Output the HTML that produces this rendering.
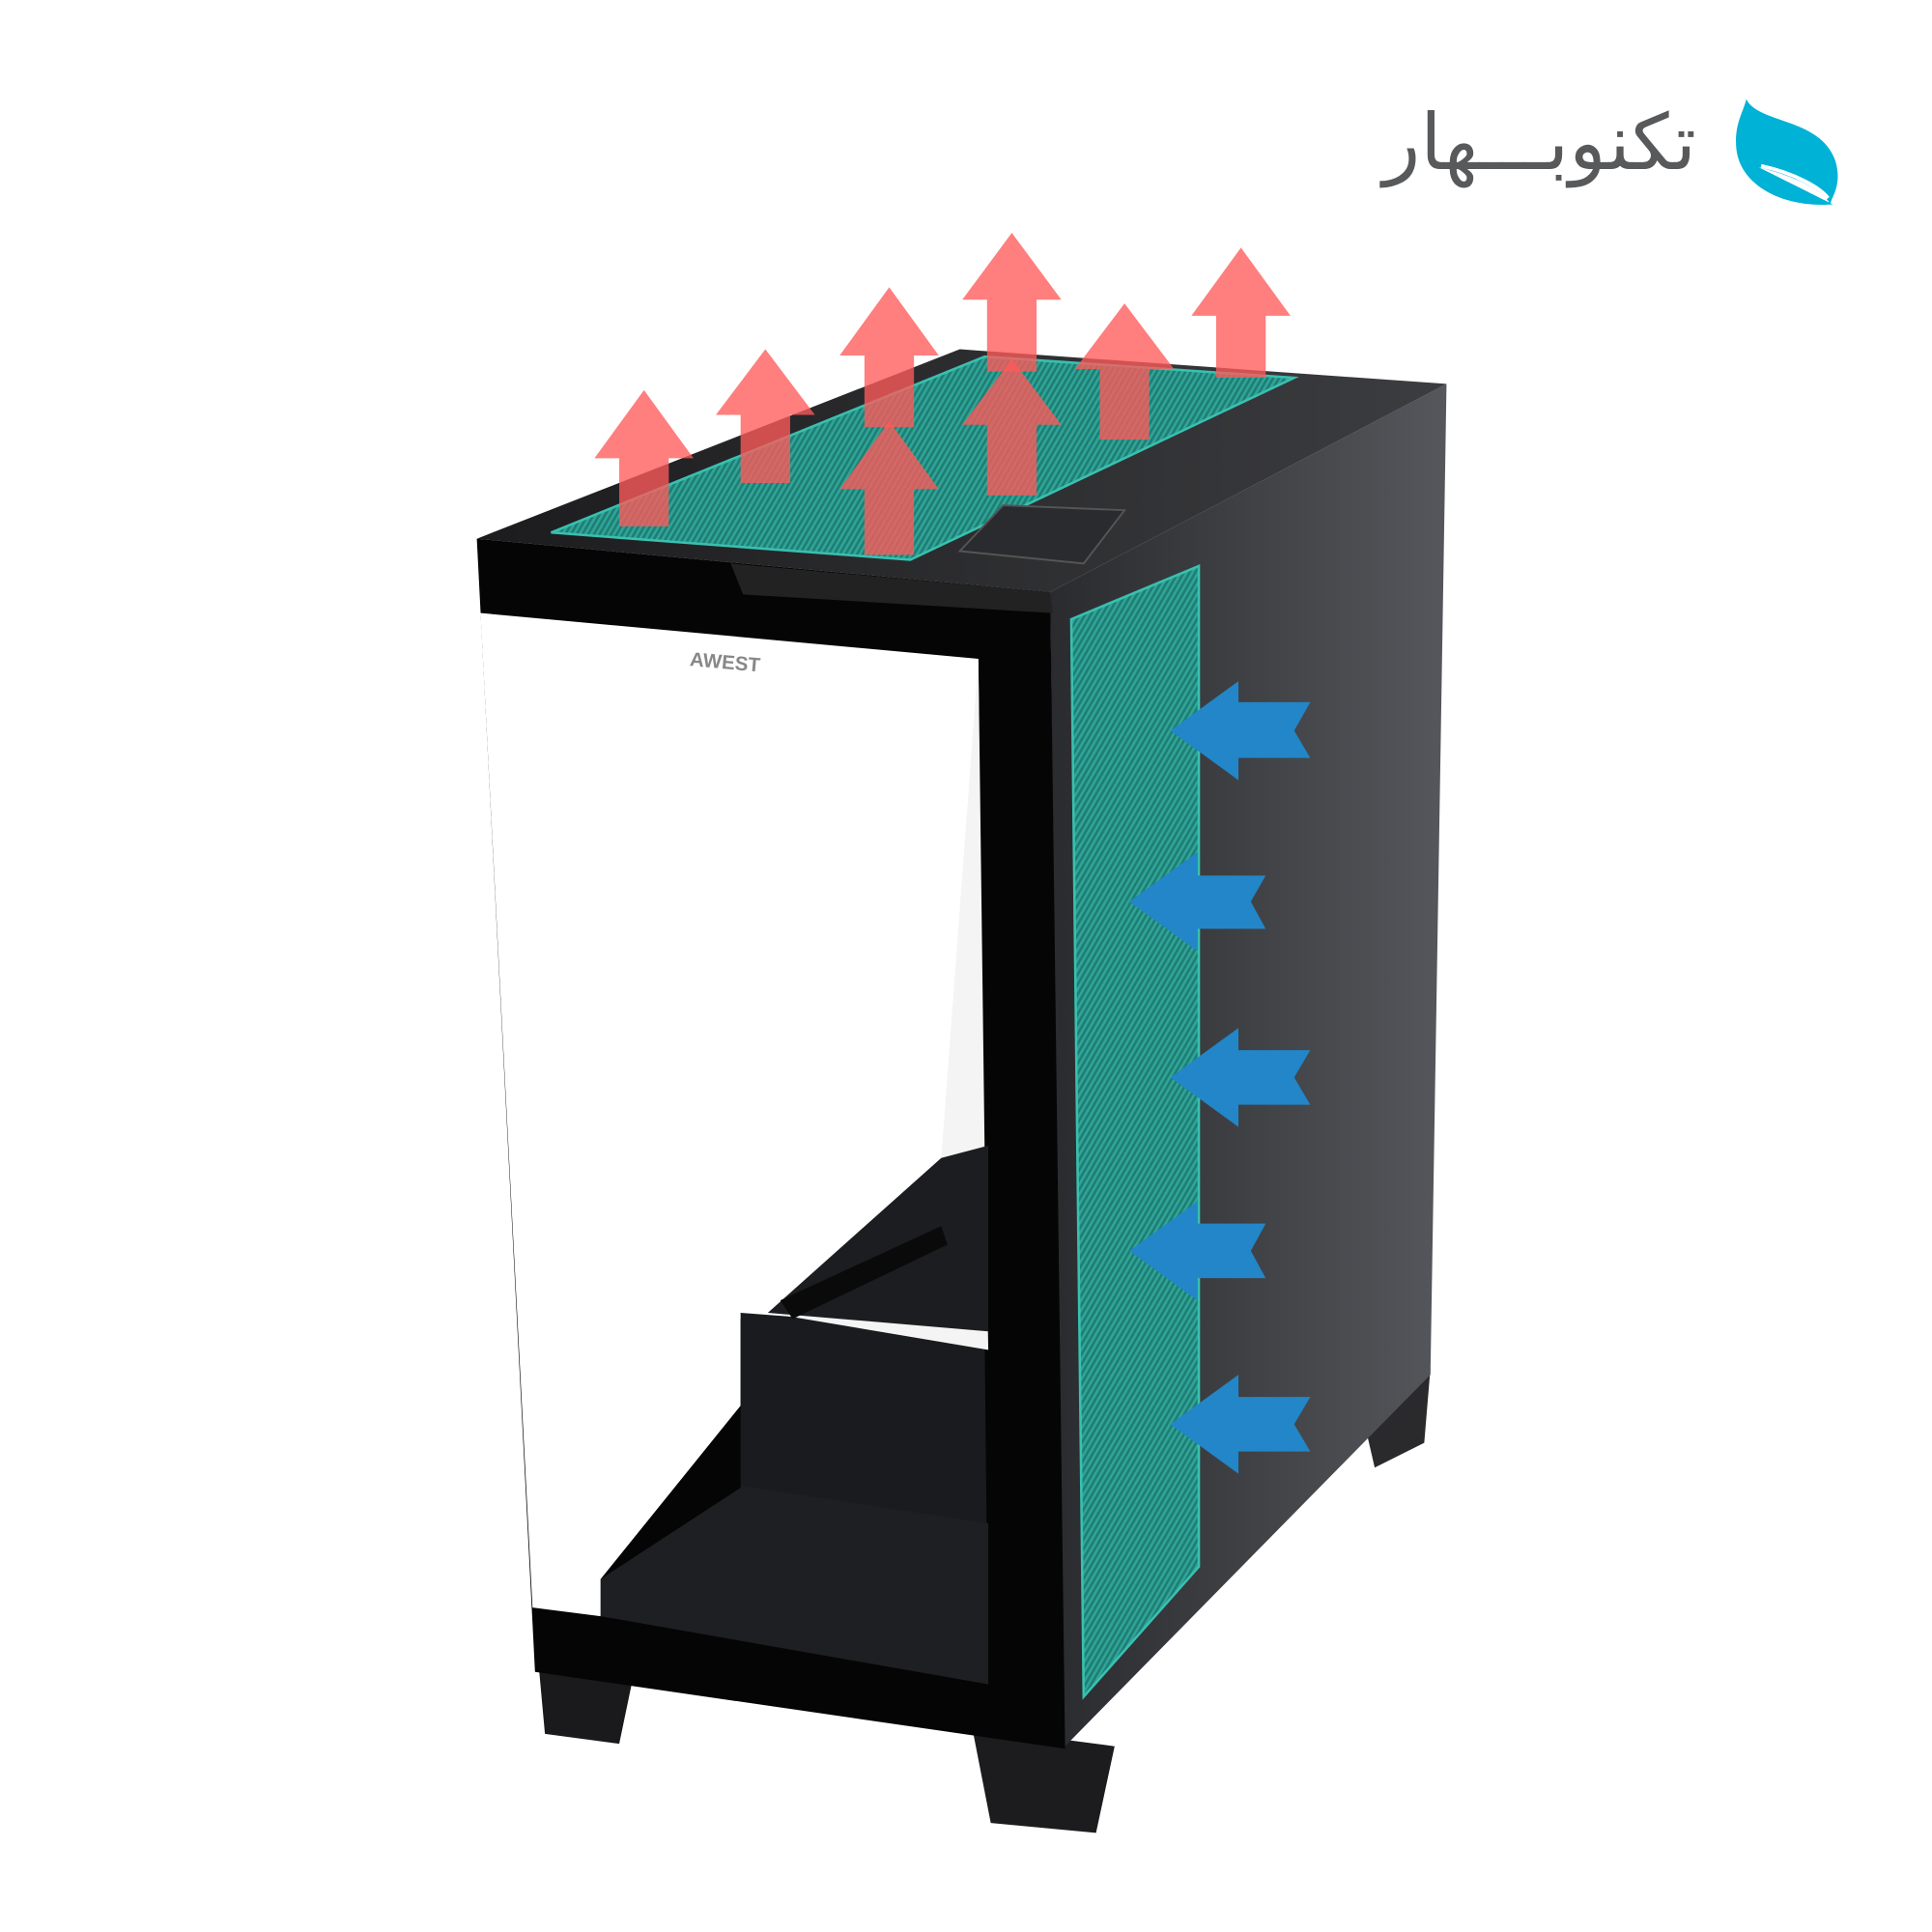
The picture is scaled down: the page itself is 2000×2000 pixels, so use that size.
<!DOCTYPE html>
<html><head><meta charset="utf-8"><style>
html,body{margin:0;padding:0;background:#fff;width:2000px;height:2000px;overflow:hidden;position:relative}
svg{display:block;position:absolute;left:0;top:0}
#logo{position:absolute;right:244px;top:108px;font-family:"DejaVu Sans","Liberation Sans",sans-serif;font-size:80px;color:#58595b;direction:rtl;white-space:nowrap;line-height:1}
</style></head><body>
<svg width="2000" height="2000" viewBox="0 0 1560 1560" xmlns="http://www.w3.org/2000/svg">
<defs>
<pattern id="mesh" width="4" height="4" patternUnits="userSpaceOnUse" patternTransform="rotate(30)">
<rect width="4" height="4" fill="#1f7d74"/><rect width="2" height="4" fill="#2fa597"/>
</pattern>
<linearGradient id="side" x1="0" y1="0" x2="1" y2="0">
<stop offset="0" stop-color="#2a2b2e"/><stop offset="1" stop-color="#55575c"/>
</linearGradient>
<linearGradient id="top" x1="0" y1="0" x2="1" y2="0">
<stop offset="0" stop-color="#1c1c1e"/><stop offset="1" stop-color="#3c3d40"/>
</linearGradient>
</defs>
<!-- logo leaf -->
<path d="M1410 80 C1420 100 1470 95 1482 130 C1488 150 1478 160 1478 165 C1470 150 1440 140 1420 135 C1450 150 1470 160 1480 165 C1440 168 1405 150 1402 120 C1400 100 1408 90 1410 80 Z" fill="#00b2d6"/>
<path d="M1422 134 C1450 140 1470 152 1476 160" stroke="#fff" stroke-width="3" fill="none"/>
<!-- feet -->
<polygon points="435,1345 510,1360 500,1408 440,1400" fill="#1a1a1c"/>
<polygon points="785,1395 900,1410 885,1480 800,1472" fill="#1c1c1e"/>
<polygon points="1095,1120 1155,1105 1150,1165 1110,1185" fill="#2a2a2d"/>
<!-- right side -->
<polygon points="848,478 1168,310 1155,1110 858,1412" fill="url(#side)"/>
<!-- top -->
<polygon points="385,435 775,282 1168,310 848,478" fill="url(#top)"/>
<polygon points="445,430 795,288 1045,305 735,452" fill="url(#mesh)" stroke="#39c0b0" stroke-width="2"/>
<polygon points="775,445 810,408 908,412 875,455" fill="#2a2b2e" stroke="#555" stroke-width="1.5"/>
<!-- front -->
<polygon points="385,435 848,478 860,1412 432,1350" fill="#050505"/>
<polygon points="388,495 790,532 795,1090 598,1065 598,1135 485,1275 485,1305 430,1298" fill="#ffffff"/>
<polygon points="598,1060 795,1075 798,1360 598,1300" fill="#1a1b1f"/>
<polygon points="485,1275 600,1200 798,1230 798,1360 485,1305" fill="#1e1f22"/>
<polygon points="590,455 848,478 850,495 600,480" fill="#222"/>
<polygon points="790,532 795,925 798,1090 620,1060 760,935" fill="#f4f4f4"/>
<polygon points="620,1060 760,935 798,925 798,1075" fill="#1c1d20"/>
<polygon points="630,1050 760,990 765,1005 640,1065" fill="#0a0a0a"/>
<text x="585" y="540" font-family="'Liberation Sans',sans-serif" font-size="16" font-weight="bold" fill="#888" text-anchor="middle" transform="rotate(5 585 540)">AWEST</text>
<!-- side mesh -->
<polygon points="865,500 968,457 968,1265 875,1370" fill="url(#mesh)" stroke="#39c0b0" stroke-width="2"/>
<!-- red arrows -->
<g fill="#ff5a5a" fill-opacity="0.78">
<polygon points="520,315 560,370 540,370 540,425 500,425 500,370 480,370"/>
<polygon points="618,282 658,335 638,335 638,390 598,390 598,335 578,335"/>
<polygon points="718,232 758,287 738,287 738,345 698,345 698,287 678,287"/>
<polygon points="817,188 857,242 837,242 837,300 797,300 797,242 777,242"/>
<polygon points="908,245 948,298 928,298 928,355 888,355 888,298 868,298"/>
<polygon points="1002,200 1042,255 1022,255 1022,305 982,305 982,255 962,255"/>
<polygon points="718,340 758,395 738,395 738,448 698,448 698,395 678,395"/>
<polygon points="817,290 857,343 837,343 837,400 797,400 797,343 777,343"/>
</g>
<!-- blue arrows -->
<g fill="#2286c8">
<polygon points="945,590 1000,550 1000,567 1058,567 1045,590 1058,612 1000,612 1000,630"/>
<polygon points="912,728 967,688 967,707 1022,707 1010,728 1022,750 967,750 967,768"/>
<polygon points="945,870 1000,830 1000,848 1058,848 1045,870 1058,892 1000,892 1000,910"/>
<polygon points="912,1010 967,970 967,988 1022,988 1010,1010 1022,1032 967,1032 967,1050"/>
<polygon points="945,1150 1000,1110 1000,1128 1058,1128 1045,1150 1058,1172 1000,1172 1000,1190"/>
</g>
</svg>
<div id="logo">تکنوبـــهار</div>
</body></html>
